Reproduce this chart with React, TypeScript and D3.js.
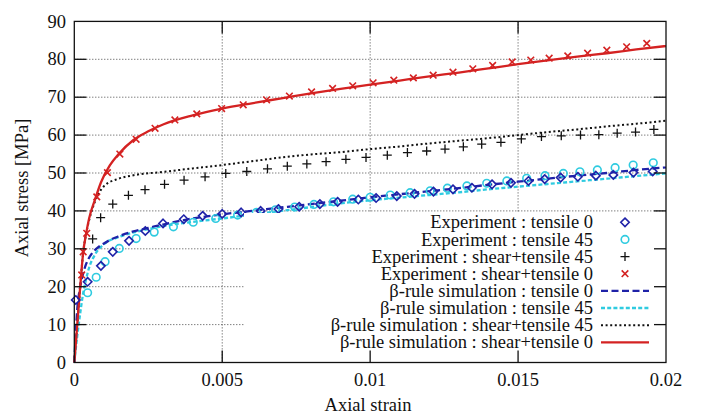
import * as d3 from "d3"
import { useRef, useEffect } from "react"

// experiment : tensile 0 (blue diamonds)
const expT0Strain = [0.00005, 0.00045, 0.0009, 0.0013, 0.00185, 0.0024, 0.003, 0.0037, 0.00434, 0.005, 0.00564, 0.0063, 0.0069, 0.0076, 0.0083, 0.0089, 0.0096, 0.0102, 0.0109, 0.0115, 0.01214, 0.0128, 0.01344, 0.01412, 0.01476, 0.01535, 0.0159, 0.01644, 0.01702, 0.01763, 0.01822, 0.0189, 0.01955]
const expT0Stress = [16.5, 21.3, 25.5, 29.2, 32.1, 34.7, 36.7, 37.8, 38.7, 39.2, 39.6, 40.0, 40.5, 41.1, 41.8, 42.4, 43.0, 43.4, 43.9, 44.5, 45.1, 45.7, 46.1, 47.0, 47.4, 47.9, 48.4, 48.8, 49.0, 49.3, 49.5, 50.1, 50.4]

// experiment : tensile 45 (cyan circles)
const expT45Strain = [0.00045, 0.00074, 0.00104, 0.00152, 0.00209, 0.0027, 0.00335, 0.00402, 0.00478, 0.00552, 0.00615, 0.0068, 0.00745, 0.0081, 0.00876, 0.00941, 0.01, 0.01068, 0.01135, 0.01203, 0.01261, 0.01327, 0.01394, 0.01462, 0.01529, 0.01591, 0.01653, 0.01709, 0.01768, 0.01828, 0.01889, 0.01957]
const expT45Stress = [18.4, 22.5, 26.6, 30.1, 32.7, 34.4, 35.8, 37.0, 38.0, 38.9, 39.6, 40.3, 41.0, 41.7, 42.4, 43.1, 43.6, 44.2, 44.8, 45.3, 46.0, 46.6, 47.3, 47.9, 48.6, 49.3, 49.9, 50.3, 50.8, 51.4, 52.1, 52.7]

// experiment : shear+tensile 45 (black plus)
const expST45Strain = [0.00062, 0.00089, 0.0013, 0.00183, 0.00239, 0.00305, 0.00371, 0.00442, 0.00512, 0.00583, 0.00653, 0.0072, 0.00786, 0.00851, 0.00918, 0.00986, 0.01058, 0.01126, 0.01191, 0.01253, 0.01315, 0.01377, 0.01442, 0.01511, 0.01579, 0.01646, 0.01711, 0.01773, 0.01835, 0.01897, 0.01959]
const expST45Stress = [32.6, 38.2, 41.8, 44.1, 45.6, 47.0, 48.1, 49.0, 49.9, 50.4, 51.1, 51.8, 52.4, 53.0, 53.6, 54.1, 54.7, 55.4, 55.8, 56.3, 56.9, 57.6, 58.1, 59.0, 59.6, 59.8, 60.0, 60.1, 60.5, 60.8, 61.5]

// experiment : shear+tensile 0 (red cross)
const expST0Strain = [0.00025, 0.0003, 0.00042, 0.00076, 0.00112, 0.00154, 0.00209, 0.00273, 0.0034, 0.00414, 0.00498, 0.00571, 0.0065, 0.00727, 0.00802, 0.00873, 0.00941, 0.0101, 0.0108, 0.01146, 0.01213, 0.0128, 0.01347, 0.01414, 0.0148, 0.01543, 0.01605, 0.01668, 0.01735, 0.018, 0.01867, 0.01935]
const expST0Stress = [23.1, 29.2, 34.1, 43.7, 50.1, 55.0, 58.9, 61.8, 64.0, 65.6, 67.0, 68.0, 69.3, 70.3, 71.4, 72.3, 73.0, 73.8, 74.5, 75.1, 75.8, 76.6, 77.5, 78.4, 79.3, 79.8, 80.3, 80.9, 81.6, 82.4, 83.3, 84.2]

// beta-rule simulations
const simT0Strain = [0, 0.0001, 0.0002, 0.0003, 0.0004, 0.0006, 0.0008, 0.001, 0.0012, 0.0015, 0.002, 0.0025, 0.003, 0.004, 0.005, 0.006, 0.007, 0.008, 0.009, 0.01, 0.011, 0.012, 0.013, 0.014, 0.015, 0.016, 0.017, 0.018, 0.019, 0.02]
const simT0Stress = [0, 14, 20, 23.5, 26, 28.8, 30.4, 31.4, 32.3, 33.3, 34.6, 35.5, 36.4, 38.0, 39.1, 40.0, 40.9, 41.8, 42.7, 43.6, 44.4, 45.2, 46.0, 46.9, 47.7, 48.5, 49.3, 50.0, 50.8, 51.5]

const simT45Strain = [0, 0.0001, 0.0002, 0.0003, 0.0004, 0.0005, 0.0007, 0.001, 0.0015, 0.002, 0.0025, 0.003, 0.004, 0.005, 0.006, 0.007, 0.008, 0.009, 0.01, 0.011, 0.012, 0.013, 0.014, 0.015, 0.016, 0.017, 0.018, 0.019, 0.02]
const simT45Stress = [0, 7, 13, 18.3, 22, 25, 28.5, 31.2, 33.1, 34.3, 35.2, 36.0, 37.1, 38.0, 39.0, 40.0, 41.0, 42.0, 42.8, 43.5, 44.2, 44.9, 45.7, 46.4, 47.1, 47.8, 48.5, 49.2, 49.9]

const simST45Strain = [0, 0.0001, 0.0002, 0.0003, 0.0004, 0.0005, 0.0007, 0.001, 0.0015, 0.002, 0.003, 0.004, 0.005, 0.006, 0.007, 0.008, 0.009, 0.01, 0.011, 0.012, 0.013, 0.014, 0.015, 0.016, 0.017, 0.018, 0.019, 0.02]
const simST45Stress = [0, 10, 20, 29, 34, 37.5, 42.5, 46.5, 48.5, 49.4, 50.3, 51.2, 52.1, 53.1, 54.1, 54.9, 55.5, 56.3, 57.0, 57.8, 58.5, 59.2, 60.0, 60.8, 61.5, 62.3, 63.0, 63.8]

const simST0Strain = [0, 0.0001, 0.0002, 0.0003, 0.0004, 0.0005, 0.0007, 0.0009, 0.0012, 0.0015, 0.002, 0.0025, 0.003, 0.004, 0.005, 0.006, 0.007, 0.008, 0.009, 0.01, 0.011, 0.012, 0.013, 0.014, 0.015, 0.016, 0.017, 0.018, 0.019, 0.02]
const simST0Stress = [0, 10, 20, 29, 34, 38, 43, 47.5, 52, 55, 58.7, 61, 62.8, 65.2, 67, 68.4, 69.7, 71.0, 72.2, 73.3, 74.4, 75.5, 76.5, 77.6, 78.7, 79.7, 80.7, 81.6, 82.6, 83.5]

const xTicks = [0, 0.005, 0.01, 0.015, 0.02]
const xTickLabels = ["0", "0.005", "0.01", "0.015", "0.02"]
const yTicks = [0, 10, 20, 30, 40, 50, 60, 70, 80, 90]

const legendLabels = [
  "Experiment : tensile 0",
  "Experiment : tensile 45",
  "Experiment : shear+tensile 45",
  "Experiment : shear+tensile 0",
  "β-rule simulation : tensile 0",
  "β-rule simulation : tensile 45",
  "β-rule simulation : shear+tensile 45",
  "β-rule simulation : shear+tensile 0",
]

const BLUE = "#1f22a8"
const CYAN = "#2fcbe0"
const RED = "#d42222"
const FONT = "Liberation Serif, Times New Roman, DejaVu Serif, serif"

export default function App() {
  const ref = useRef<SVGSVGElement>(null)

  useEffect(() => {
    const width = 701
    const height = 414
    const left = 74.3
    const right = 666
    const top = 21.4
    const bottom = 362.5

    const x = d3.scaleLinear().domain([0, 0.02]).range([left, right])
    const y = d3.scaleLinear().domain([0, 90]).range([bottom, top])

    const svg = d3.select(ref.current)
    svg.selectAll("*").remove()
    svg.attr("width", width).attr("height", height)
      .style("font-family", FONT)

    // grid
    const grid = svg.append("g").attr("stroke", "#333").attr("stroke-width", 0.9).attr("stroke-dasharray", "1,2")
    grid.selectAll("line.h")
      .data(yTicks.slice(1, -1))
      .join("line")
      .attr("x1", left).attr("x2", right)
      .attr("y1", (d) => y(d)).attr("y2", (d) => y(d))
    grid.selectAll("line.v")
      .data(xTicks.slice(1, -1))
      .join("line")
      .attr("x1", (d) => x(d)).attr("x2", (d) => x(d))
      .attr("y1", top).attr("y2", bottom)

    const pts = (xs: number[], ys: number[]) => xs.map((v, i) => [v, ys[i]] as [number, number])
    const line = d3.line<[number, number]>()
      .x((d) => x(d[0]))
      .y((d) => y(d[1]))
      .curve(d3.curveMonotoneX)

    // simulation curves
    const sims = [
      { data: pts(simST45Strain, simST45Stress), color: "#111", w: 2, dash: "2,2.6" },
      { data: pts(simT45Strain, simT45Stress), color: CYAN, w: 2.3, dash: "4,2.2" },
      { data: pts(simT0Strain, simT0Stress), color: BLUE, w: 2.3, dash: "7,3.5" },
      { data: pts(simST0Strain, simST0Stress), color: RED, w: 2.3, dash: null },
    ]
    sims.forEach((s) => {
      svg.append("path")
        .attr("d", line(s.data))
        .attr("fill", "none")
        .attr("stroke", s.color)
        .attr("stroke-width", s.w)
        .attr("stroke-dasharray", s.dash)
    })

    const diamond = (g: any, cx: number, cy: number) =>
      g.append("path").attr("d", `M${cx},${cy - 4.2}L${cx + 4.2},${cy}L${cx},${cy + 4.2}L${cx - 4.2},${cy}Z`)
        .attr("fill", "none").attr("stroke", BLUE).attr("stroke-width", 1.6)
    const circle = (g: any, cx: number, cy: number) =>
      g.append("circle").attr("cx", cx).attr("cy", cy).attr("r", 3.8)
        .attr("fill", "none").attr("stroke", CYAN).attr("stroke-width", 1.6)
    const plus = (g: any, cx: number, cy: number) =>
      g.append("path").attr("d", `M${cx - 4.5},${cy}H${cx + 4.5}M${cx},${cy - 4.5}V${cy + 4.5}`)
        .attr("stroke", "#111").attr("stroke-width", 1.3)
    const cross = (g: any, cx: number, cy: number) =>
      g.append("path").attr("d", `M${cx - 3.3},${cy - 3.3}L${cx + 3.3},${cy + 3.3}M${cx - 3.3},${cy + 3.3}L${cx + 3.3},${cy - 3.3}`)
        .attr("stroke", RED).attr("stroke-width", 1.6)

    const markers = svg.append("g")
    pts(expST0Strain, expST0Stress).forEach((d) => cross(markers, x(d[0]), y(d[1])))
    pts(expST45Strain, expST45Stress).forEach((d) => plus(markers, x(d[0]), y(d[1])))
    pts(expT45Strain, expT45Stress).forEach((d) => circle(markers, x(d[0]), y(d[1])))
    pts(expT0Strain, expT0Stress).forEach((d) => diamond(markers, x(d[0]), y(d[1])))

    // opaque key
    const keyTop = 213
    svg.append("rect")
      .attr("x", 244).attr("y", keyTop)
      .attr("width", right - 244).attr("height", bottom - keyTop)
      .attr("fill", "white")

    const key = svg.append("g").style("font-size", "18.5px").attr("fill", "#111")
    legendLabels.forEach((label, i) => {
      const cy = 222.3 + i * 17.14
      key.append("text")
        .attr("x", 593).attr("y", cy).attr("dy", "0.33em")
        .attr("text-anchor", "end")
        .text(label)
      if (i === 0) diamond(key, 625, cy)
      if (i === 1) circle(key, 625, cy)
      if (i === 2) plus(key, 625, cy)
      if (i === 3) cross(key, 625, cy)
      if (i >= 4) {
        const s = [sims[2], sims[1], sims[0], sims[3]][i - 4]
        key.append("line")
          .attr("x1", 601).attr("x2", 649).attr("y1", cy).attr("y2", cy)
          .attr("stroke", s.color).attr("stroke-width", s.w)
          .attr("stroke-dasharray", s.dash)
      }
    })

    // frame and ticks
    const frame = svg.append("g").attr("stroke", "#111").attr("stroke-width", 1.3).attr("fill", "none")
    frame.append("rect").attr("x", left).attr("y", top).attr("width", right - left).attr("height", bottom - top)
    const tl = 12
    yTicks.slice(1, -1).forEach((v) => {
      frame.append("line").attr("x1", left).attr("x2", left + tl).attr("y1", y(v)).attr("y2", y(v))
      frame.append("line").attr("x1", right).attr("x2", right - tl).attr("y1", y(v)).attr("y2", y(v))
    })
    xTicks.slice(1, -1).forEach((v) => {
      frame.append("line").attr("x1", x(v)).attr("x2", x(v)).attr("y1", bottom).attr("y2", bottom - tl)
      frame.append("line").attr("x1", x(v)).attr("x2", x(v)).attr("y1", top).attr("y2", top + tl)
    })

    const labels = svg.append("g").style("font-size", "18.5px").attr("fill", "#111")
    labels.selectAll("text.y")
      .data(yTicks)
      .join("text")
      .attr("x", 66).attr("y", (d) => y(d)).attr("dy", "0.33em")
      .attr("text-anchor", "end")
      .text((d) => d)
    labels.selectAll("text.x")
      .data(xTicks)
      .join("text")
      .attr("x", (d) => x(d)).attr("y", 386)
      .attr("text-anchor", "middle")
      .text((d, i) => xTickLabels[i])

    labels.append("text")
      .attr("x", 368).attr("y", 411)
      .attr("text-anchor", "middle")
      .text("Axial strain")
    labels.append("text")
      .attr("transform", "translate(28,188) rotate(-90)")
      .attr("text-anchor", "middle")
      .text("Axial stress [MPa]")
  }, [])

  return (
    <div style={{ position: "absolute", left: 0, top: 0, background: "white" }}>
      <svg ref={ref}></svg>
    </div>
  )
}
